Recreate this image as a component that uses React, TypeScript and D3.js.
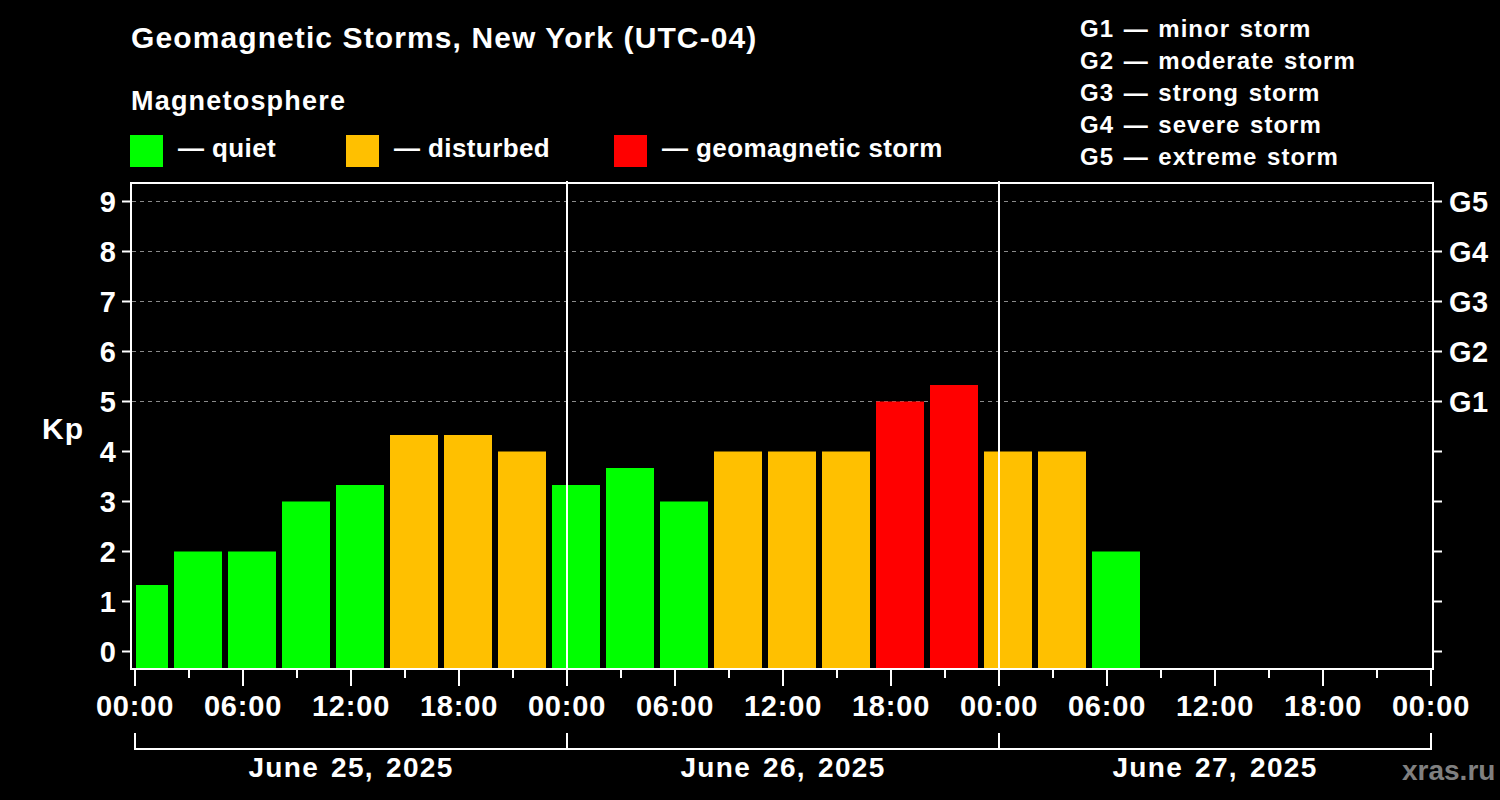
import React from "react";
import * as d3 from "d3";

// ---- Data ----
const TITLE = "Geomagnetic Storms, New York (UTC-04)";
const SUBTITLE = "Magnetosphere";
const STATUS_LABELS = ["— quiet", "— disturbed", "— geomagnetic storm"];
const STATUS_COLORS = ["#00ff00", "#ffc000", "#ff0000"];
const G_LEGEND = [
  "G1 — minor storm",
  "G2 — moderate storm",
  "G3 — strong storm",
  "G4 — severe storm",
  "G5 — extreme storm",
];
const G_LABELS = ["G1", "G2", "G3", "G4", "G5"];
const G_LEVELS = [5, 6, 7, 8, 9];
const KP_TICKS = [0, 1, 2, 3, 4, 5, 6, 7, 8, 9];
const DAY_LABELS = ["June 25, 2025", "June 26, 2025", "June 27, 2025"];
// 3-hour bins (local time UTC-04), first bin starts June 24 23:00
const FIRST_BIN_START = Date.UTC(2025, 5, 24, 23);
const KP_VALUES = [
  1.33, 2, 2, 3, 3.33, 4.33, 4.33, 4, 3.33, 3.67, 3, 4, 4, 4, 5, 5.33, 4, 4, 2,
];

const FONT = "'Liberation Sans', Arial, Helvetica, sans-serif";
const HOUR = 3600 * 1000;

function statusIndex(v: number) {
  if (v >= 5) return 2;
  if (v >= 4) return 1;
  return 0;
}

export default function App() {
  const W = 1500;
  const H = 800;
  const start = new Date(Date.UTC(2025, 5, 25, 0));
  const end = new Date(Date.UTC(2025, 5, 28, 0));
  const x = d3.scaleUtc().domain([start, end]).range([135, 1431]);
  const y = d3.scaleLinear().domain([0, 9]).range([651.5, 201.5]);
  const frame = { x0: 131, x1: 1433, y0: 183, y1: 669 };

  const bins = KP_VALUES.map((v, i) => {
    const s = new Date(FIRST_BIN_START + i * 3 * HOUR);
    const e = new Date(FIRST_BIN_START + (i + 1) * 3 * HOUR);
    return { v, s, e };
  });

  const hourTicks = d3.utcHour.every(3)!.range(start, new Date(+end + 1));
  const fmt = d3.utcFormat("%H:%M");
  const days = d3.utcDay.range(start, end);
  const dayBounds = d3.utcDay.range(start, new Date(+end + 1));

  const txt = {
    fill: "#fff",
    fontFamily: FONT,
    fontWeight: "bold" as const,
  };

  return (
    <svg
      width={W}
      height={H}
      style={{ position: "absolute", left: 0, top: 0, background: "#000" }}
    >
      <rect x={0} y={0} width={W} height={H} fill="#000" />
      <defs>
        <clipPath id="plotclip">
          <rect
            x={x(start) + 1}
            y={frame.y0 + 1}
            width={frame.x1 - 1 - (x(start) + 1)}
            height={frame.y1 - frame.y0 - 2}
          />
        </clipPath>
      </defs>

      {/* Title and legends */}
      <text x={131} y={48} fontSize={30} letterSpacing={1.1} {...txt}>
        {TITLE}
      </text>
      <text x={131} y={110} fontSize={27} letterSpacing={1.2} {...txt}>
        {SUBTITLE}
      </text>
      {STATUS_LABELS.map((lab, i) => {
        const sx = [130, 346, 614][i];
        return (
          <g key={lab}>
            <rect x={sx} y={135} width={33} height={32} fill={STATUS_COLORS[i]} />
            <text x={sx + 48} y={157} fontSize={26} letterSpacing={0.4} {...txt}>
              {lab}
            </text>
          </g>
        );
      })}
      {G_LEGEND.map((lab, i) => (
        <text key={lab} x={1080} y={37 + i * 32} fontSize={24} letterSpacing={1} wordSpacing={2} {...txt}>
          {lab}
        </text>
      ))}

      {/* Grid */}
      {G_LEVELS.map((k) => (
        <line
          key={"g" + k}
          x1={frame.x0 + 1}
          x2={frame.x1 - 1}
          y1={y(k)}
          y2={y(k)}
          stroke="#8a8a8a"
          strokeWidth={1}
          strokeDasharray="4,4"
        />
      ))}

      {/* Bars */}
      <g clipPath="url(#plotclip)">
        {bins.map((b, i) => (
          <rect
            key={i}
            x={x(b.s) + 3}
            width={x(b.e) - x(b.s) - 6}
            y={y(b.v)}
            height={frame.y1 - 1 - y(b.v)}
            fill={STATUS_COLORS[statusIndex(b.v)]}
          />
        ))}
      </g>

      {/* Day separators */}
      {days.slice(1).map((d) => (
        <line
          key={"sep" + +d}
          x1={x(d)}
          x2={x(d)}
          y1={181}
          y2={frame.y1}
          stroke="#fff"
          strokeWidth={2}
        />
      ))}

      {/* Frame */}
      <rect
        x={frame.x0}
        y={frame.y0}
        width={frame.x1 - frame.x0}
        height={frame.y1 - frame.y0}
        fill="none"
        stroke="#fff"
        strokeWidth={2}
      />

      {/* Left axis */}
      {KP_TICKS.map((k) => (
        <g key={"l" + k}>
          <line x1={122} x2={frame.x0} y1={y(k)} y2={y(k)} stroke="#fff" strokeWidth={2} />
          <text x={116} y={y(k) + 10.5} fontSize={29} textAnchor="end" {...txt}>
            {k}
          </text>
          <line x1={frame.x1} x2={1442} y1={y(k)} y2={y(k)} stroke="#fff" strokeWidth={2} />
        </g>
      ))}
      {G_LEVELS.map((k, i) => (
        <text key={"gl" + k} x={1449} y={y(k) + 10.5} fontSize={29} letterSpacing={0.5} {...txt}>
          {G_LABELS[i]}
        </text>
      ))}
      <text x={42} y={439} fontSize={30} letterSpacing={1} {...txt}>
        Kp
      </text>

      {/* Bottom axis */}
      {hourTicks.map((t) => {
        const major = t.getUTCHours() % 6 === 0;
        return (
          <g key={"t" + +t}>
            <line
              x1={x(t)}
              x2={x(t)}
              y1={frame.y1 + 1}
              y2={major ? 686 : 678}
              stroke="#fff"
              strokeWidth={2}
            />
            {major && (
              <text x={x(t)} y={716} fontSize={29} textAnchor="middle" letterSpacing={0.8} {...txt}>
                {fmt(t)}
              </text>
            )}
          </g>
        );
      })}

      {/* Day bracket */}
      <line x1={x(start)} x2={x(end)} y1={749} y2={749} stroke="#fff" strokeWidth={2} />
      {dayBounds.map((d) => (
        <line key={"b" + +d} x1={x(d)} x2={x(d)} y1={733} y2={750} stroke="#fff" strokeWidth={2} />
      ))}
      {days.map((d, i) => (
        <text
          key={"d" + i}
          x={x(new Date(+d + 12 * HOUR))}
          y={777}
          fontSize={28}
          textAnchor="middle"
          letterSpacing={1.3}
          wordSpacing={3}
          {...txt}
        >
          {DAY_LABELS[i]}
        </text>
      ))}

      <text x={1402} y={780} fontSize={28} {...txt} fill="#808080">
        xras.ru
      </text>
    </svg>
  );
}
